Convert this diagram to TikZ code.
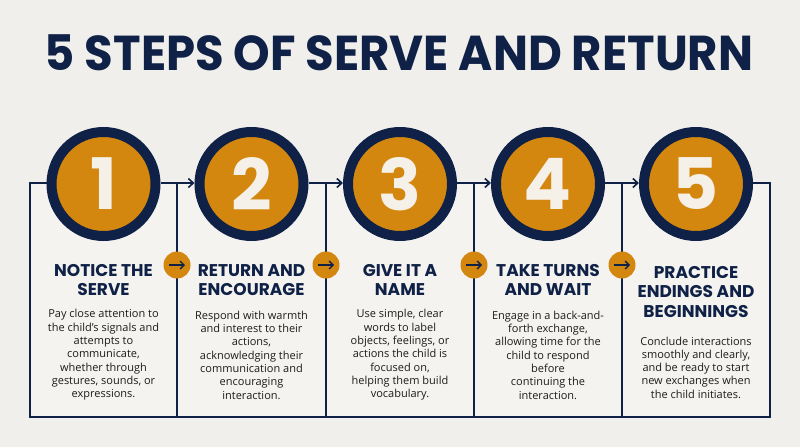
\documentclass[tikz,border=0pt]{standalone}
\usepackage{fontspec}
\usetikzlibrary{arrows.meta,calc}
\newfontfamily\headfont{Poppins}[BoldFont={Poppins Bold}]
\newfontfamily\titlefont{Poppins Bold}[FakeStretch=0.95]
\newfontfamily\bodyfont{Open Sans}
\definecolor{navy}{HTML}{0F2146}
\definecolor{orng}{HTML}{D4870F}
\definecolor{bgc}{HTML}{F0EFEB}
\definecolor{boxc}{HTML}{F4F3EF}
\definecolor{digc}{HTML}{F5F1E8}
\definecolor{txtc}{HTML}{1C1C1C}
\tikzset{
  numcirc/.style={circle, fill=orng, draw=navy, line width=10pt, minimum size=104pt, inner sep=0pt,
    text=digc, font=\headfont\bfseries\fontsize{71}{71}\selectfont},
  headtxt/.style={align=center, text=navy, font=\headfont\bfseries\fontsize{17}{19.5}\selectfont, inner sep=0pt},
  bodytxt/.style={align=center, text=txtc, font=\bodyfont\fontsize{11}{13.3}\selectfont, inner sep=0pt},
  frameline/.style={draw=navy, line width=1.8pt},
  linkarrow/.style={draw=navy, line width=1.8pt, -{Straight Barb[length=5pt,width=9pt,line width=1.6pt]}},
  dot/.style={circle, fill=orng, minimum size=27pt, inner sep=0pt},
  dotarrow/.style={draw=navy, line width=1.5pt, -{Straight Barb[length=4pt,width=8pt,line width=1.4pt]}}
}
\begin{document}
\begin{tikzpicture}[x=1pt,y=-1pt]
\fill[bgc] (0,0) rectangle (800,447);
\useasboundingbox (0,0) rectangle (800,447);
\fill[boxc] (30,183) rectangle (770,417);
% title
\node[font=\titlefont\fontsize{49}{49}\selectfont, text=navy, inner sep=0pt] (title) at (399,52.5) {5 STEPS OF SERVE AND RETURN};
% corner coordinates
\coordinate (tl) at (30,183);
\coordinate (bl) at (30,417);
\coordinate (tr) at (770,183);
\coordinate (br) at (770,417);
\foreach \i/\x in {1/177,2/326,3/474,4/622}{
  \coordinate (dt\i) at (\x,183);
  \coordinate (db\i) at (\x,417);
}
% frame
\draw[frameline] (dt1) -- (db1);
\draw[frameline] (dt2) -- (db2);
\draw[frameline] (dt3) -- (db3);
\draw[frameline] (dt4) -- (db4);
% circles
\node[numcirc] (c1) at (103.5,184) {1};
\node[numcirc] (c2) at (251.5,184) {2};
\node[numcirc] (c3) at (400,184) {3};
\node[numcirc] (c4) at (548,184) {4};
\node[numcirc] (c5) at (696,184) {5};
\draw[frameline] (c1.west |- tl) -- (tl) -- (bl) -- (br) -- (tr) -- (c5.east |- tr);
\draw[linkarrow] (c1.east |- tl) -- (c2.west |- tl);
\draw[linkarrow] (c2.east |- tl) -- (c3.west |- tl);
\draw[linkarrow] (c3.east |- tl) -- (c4.west |- tl);
\draw[linkarrow] (c4.east |- tl) -- (c5.west |- tl);
% small dots
\foreach \i in {1,2,3,4}{
  \node[dot] (a\i) at ($(dt\i)+(0,82)$) {};
}
\foreach \i in {1,2,3,4}{
  \draw[dotarrow] ([xshift=-8pt]a\i.center) -- ([xshift=8pt]a\i.center);
}
% headings
\node[headtxt] (h1) at (103.5,280) {NOTICE THE\\SERVE};
\node[headtxt] (h2) at (251.5,280) {RETURN AND\\ENCOURAGE};
\node[headtxt] (h3) at (400,280) {GIVE IT A\\NAME};
\node[headtxt] (h4) at (548,280) {TAKE TURNS\\AND WAIT};
\node[headtxt] (h5) at (696,292) {PRACTICE\\ENDINGS AND\\BEGINNINGS};
% bodies
\node[bodytxt] (b1) at (103.5,355) {Pay close attention to\\the child’s signals and\\attempts to\\communicate,\\whether through\\gestures, sounds, or\\expressions.};
\node[bodytxt] (b2) at (251.5,355) {Respond with warmth\\and interest to their\\actions,\\acknowledging their\\communication and\\encouraging\\interaction.};
\node[bodytxt] (b3) at (400,355) {Use simple, clear\\words to label\\objects, feelings, or\\actions the child is\\focused on,\\helping them build\\vocabulary.};
\node[bodytxt] (b4) at (548,355) {Engage in a back-and-\\forth exchange,\\allowing time for the\\child to respond\\before\\continuing the\\interaction.};
\node[bodytxt] (b5) at (696,367.5) {Conclude interactions\\smoothly and clearly,\\and be ready to start\\new exchanges when\\the child initiates.};
\end{tikzpicture}
\end{document}
